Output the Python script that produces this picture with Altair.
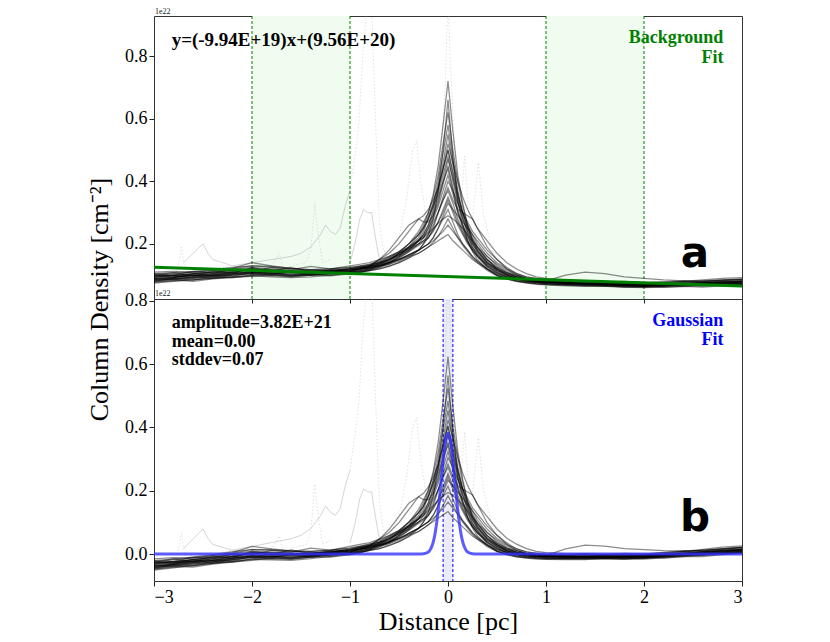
import altair as alt
import pandas as pd

# ---------------- data (units of 1e22 cm^-2) ----------------
X_GRID = [-3.0, -2.8, -2.6, -2.4, -2.2, -2.0, -1.8, -1.6, -1.4, -1.2, -1.0,
          -0.9, -0.8, -0.7, -0.6, -0.5, -0.4,
          -0.3, -0.25, -0.2, -0.15, -0.1, -0.05, 0.0, 0.05, 0.1, 0.15, 0.2, 0.25, 0.3,
          0.4, 0.5, 0.6, 0.7, 0.8, 0.9, 1.0,
          1.2, 1.4, 1.6, 1.8, 2.0, 2.2, 2.4, 2.6, 2.8, 3.0]

P1 = [0.095,0.10,0.098,0.105,0.11,0.118,0.112,0.108,0.11,0.105,0.11, 0.115,0.12,0.13,0.14,0.16,0.19, 0.23,0.26,0.30,0.36,0.45,0.58,0.72,0.56,0.42,0.33,0.26,0.21,0.18, 0.14,0.115,0.10,0.09,0.085,0.08,0.078, 0.075,0.072,0.07,0.068,0.066,0.07,0.072,0.07,0.074,0.078]
P2 = [0.088,0.092,0.10,0.098,0.104,0.11,0.106,0.10,0.104,0.11,0.112, 0.118,0.125,0.135,0.15,0.17,0.20, 0.24,0.27,0.30,0.35,0.42,0.52,0.62,0.50,0.40,0.32,0.26,0.22,0.19, 0.15,0.12,0.105,0.095,0.088,0.082,0.08, 0.076,0.073,0.07,0.066,0.064,0.067,0.07,0.073,0.07,0.075]
P3 = [0.10,0.105,0.11,0.115,0.12,0.13,0.125,0.12,0.118,0.12,0.125, 0.13,0.135,0.14,0.15,0.165,0.19, 0.22,0.25,0.28,0.32,0.38,0.46,0.55,0.45,0.36,0.29,0.24,0.20,0.175, 0.14,0.12,0.10,0.09,0.085,0.08,0.079, 0.076,0.074,0.072,0.07,0.069,0.072,0.075,0.078,0.08,0.082]
P4 = [0.082,0.088,0.09,0.095,0.10,0.105,0.10,0.098,0.10,0.105,0.11, 0.12,0.13,0.15,0.17,0.20,0.24, 0.28,0.29,0.31,0.34,0.38,0.44,0.50,0.42,0.34,0.28,0.23,0.19,0.165, 0.13,0.11,0.095,0.088,0.082,0.078,0.075, 0.072,0.07,0.068,0.066,0.064,0.066,0.068,0.07,0.072,0.07]
P5 = [0.11,0.112,0.108,0.115,0.122,0.14,0.13,0.122,0.115,0.11,0.115, 0.12,0.125,0.13,0.14,0.155,0.175, 0.20,0.22,0.25,0.29,0.34,0.40,0.47,0.41,0.35,0.30,0.26,0.23,0.20, 0.16,0.13,0.11,0.095,0.088,0.084,0.082, 0.08,0.078,0.076,0.074,0.072,0.074,0.078,0.082,0.085,0.088]
P6 = [0.078,0.082,0.085,0.09,0.094,0.098,0.095,0.092,0.095,0.10,0.105, 0.11,0.115,0.125,0.14,0.16,0.18, 0.21,0.23,0.26,0.30,0.35,0.40,0.44,0.37,0.30,0.25,0.21,0.18,0.16, 0.125,0.105,0.092,0.085,0.08,0.076,0.073, 0.07,0.068,0.066,0.064,0.062,0.065,0.068,0.066,0.069,0.072]
P7 = [0.092,0.095,0.10,0.102,0.108,0.12,0.115,0.11,0.108,0.112,0.118, 0.12,0.125,0.13,0.135,0.145,0.16, 0.18,0.20,0.22,0.25,0.30,0.35,0.40,0.37,0.33,0.30,0.27,0.24,0.22, 0.18,0.15,0.125,0.105,0.095,0.09,0.085, 0.082,0.08,0.078,0.075,0.072,0.075,0.08,0.085,0.09,0.092]
P8 = [0.085,0.09,0.094,0.10,0.105,0.11,0.108,0.104,0.106,0.11,0.114, 0.118,0.125,0.135,0.15,0.17,0.19, 0.21,0.22,0.24,0.27,0.30,0.34,0.37,0.33,0.28,0.24,0.21,0.185,0.165, 0.13,0.11,0.095,0.088,0.082,0.078,0.076, 0.073,0.07,0.068,0.067,0.065,0.068,0.07,0.073,0.076,0.08]
P9 = [0.10,0.098,0.104,0.11,0.118,0.125,0.12,0.115,0.112,0.115,0.12, 0.125,0.13,0.14,0.155,0.17,0.185, 0.20,0.21,0.22,0.24,0.27,0.30,0.34,0.30,0.26,0.23,0.20,0.18,0.16, 0.135,0.115,0.10,0.09,0.085,0.08,0.078, 0.075,0.073,0.071,0.07,0.068,0.07,0.073,0.076,0.078,0.08]
P10 = [0.075,0.08,0.086,0.09,0.095,0.10,0.098,0.096,0.10,0.104,0.108, 0.112,0.118,0.125,0.135,0.15,0.165, 0.18,0.19,0.20,0.22,0.25,0.28,0.31,0.27,0.23,0.20,0.18,0.16,0.145, 0.12,0.10,0.09,0.082,0.077,0.073,0.07, 0.068,0.066,0.064,0.062,0.06,0.062,0.064,0.066,0.068,0.07]
P11 = [0.09,0.094,0.098,0.104,0.11,0.116,0.112,0.108,0.11,0.115,0.12, 0.128,0.135,0.145,0.16,0.175,0.19, 0.21,0.22,0.235,0.25,0.265,0.28,0.29,0.28,0.265,0.25,0.23,0.21,0.19, 0.16,0.135,0.115,0.10,0.09,0.085,0.082, 0.078,0.076,0.074,0.072,0.07,0.072,0.074,0.077,0.08,0.082]
P12 = [0.083,0.086,0.09,0.096,0.10,0.104,0.102,0.10,0.102,0.106,0.11, 0.114,0.12,0.128,0.14,0.15,0.165, 0.18,0.19,0.20,0.21,0.225,0.24,0.26,0.24,0.22,0.20,0.18,0.16,0.145, 0.12,0.10,0.088,0.08,0.076,0.073,0.071, 0.069,0.067,0.065,0.063,0.062,0.064,0.066,0.068,0.07,0.072]
P13 = [0.105,0.108,0.112,0.118,0.125,0.13,0.128,0.122,0.118,0.12,0.124, 0.128,0.13,0.135,0.14,0.15,0.16, 0.17,0.18,0.19,0.20,0.21,0.22,0.23,0.21,0.195,0.18,0.165,0.15,0.14, 0.12,0.105,0.095,0.088,0.083,0.08,0.078, 0.076,0.074,0.072,0.07,0.069,0.071,0.074,0.076,0.078,0.08]
P14 = [0.095,0.1,0.104,0.108,0.112,0.12,0.118,0.113,0.11,0.112,0.116, 0.12,0.13,0.15,0.18,0.22,0.26, 0.28,0.27,0.27,0.29,0.33,0.39,0.45,0.38,0.31,0.26,0.22,0.19,0.17, 0.135,0.115,0.1,0.09,0.084,0.08,0.077, 0.074,0.072,0.07,0.068,0.066,0.069,0.072,0.075,0.078,0.08]
P15 = [0.087,0.09,0.095,0.1,0.104,0.11,0.106,0.103,0.105,0.11,0.115, 0.12,0.128,0.138,0.15,0.165,0.185, 0.21,0.23,0.26,0.31,0.37,0.44,0.52,0.46,0.40,0.35,0.31,0.28,0.25, 0.21,0.17,0.14,0.12,0.105,0.095,0.09, 0.085,0.082,0.08,0.078,0.076,0.078,0.08,0.082,0.084,0.086]
P16 = [0.098,0.1,0.105,0.11,0.115,0.12,0.117,0.114,0.112,0.116,0.12, 0.124,0.13,0.14,0.15,0.165,0.18, 0.20,0.21,0.23,0.26,0.30,0.34,0.38,0.34,0.31,0.30,0.29,0.28,0.25, 0.19,0.15,0.12,0.1,0.09,0.085,0.082, 0.1,0.11,0.105,0.095,0.09,0.085,0.082,0.08,0.083,0.086]
P17 = [0.09,0.085,0.095,0.09,0.1,0.108,0.1,0.112,0.104,0.11,0.106, 0.115,0.122,0.132,0.145,0.16,0.18, 0.21,0.24,0.28,0.33,0.40,0.49,0.58,0.47,0.37,0.30,0.25,0.21,0.185, 0.15,0.125,0.108,0.1,0.09,0.086,0.083, 0.078,0.081,0.074,0.077,0.07,0.075,0.071,0.077,0.073,0.079]
P18 = [0.1,0.108,0.098,0.112,0.105,0.125,0.112,0.125,0.11,0.118,0.112, 0.125,0.12,0.138,0.145,0.17,0.185, 0.215,0.225,0.25,0.28,0.32,0.37,0.42,0.36,0.30,0.26,0.225,0.2,0.175, 0.14,0.12,0.105,0.094,0.088,0.083,0.08, 0.077,0.074,0.078,0.072,0.075,0.07,0.076,0.072,0.078,0.075]
P19 = [0.08,0.09,0.084,0.095,0.092,0.1,0.108,0.098,0.106,0.1,0.11, 0.108,0.118,0.13,0.138,0.155,0.175, 0.195,0.205,0.22,0.245,0.27,0.31,0.35,0.31,0.27,0.235,0.205,0.18,0.16, 0.128,0.108,0.095,0.088,0.08,0.077,0.074, 0.071,0.068,0.071,0.066,0.068,0.065,0.07,0.068,0.072,0.074]
P20 = [0.105,0.1,0.112,0.106,0.118,0.112,0.125,0.118,0.128,0.12,0.13, 0.135,0.14,0.15,0.16,0.175,0.2, 0.23,0.25,0.28,0.32,0.36,0.42,0.48,0.4,0.33,0.28,0.24,0.205,0.18, 0.145,0.12,0.103,0.093,0.086,0.082,0.079, 0.074,0.077,0.073,0.071,0.074,0.069,0.073,0.071,0.075,0.078]
P21 = [0.078,0.085,0.08,0.088,0.092,0.096,0.102,0.095,0.1,0.098,0.104, 0.11,0.115,0.12,0.13,0.14,0.155, 0.17,0.18,0.19,0.205,0.225,0.25,0.28,0.25,0.22,0.195,0.175,0.155,0.14, 0.115,0.098,0.088,0.08,0.075,0.071,0.069, 0.066,0.064,0.067,0.062,0.065,0.061,0.064,0.062,0.066,0.068]
P22 = [0.094,0.098,0.092,0.1,0.096,0.108,0.104,0.11,0.1,0.108,0.104, 0.11,0.115,0.12,0.128,0.14,0.155, 0.18,0.2,0.23,0.28,0.37,0.5,0.66,0.48,0.34,0.26,0.21,0.175,0.15, 0.12,0.1,0.09,0.083,0.078,0.075,0.073, 0.07,0.073,0.068,0.071,0.066,0.069,0.066,0.07,0.068,0.072]
P23 = [0.086,0.092,0.1,0.094,0.104,0.114,0.106,0.114,0.108,0.114,0.118, 0.122,0.128,0.132,0.14,0.15,0.165, 0.18,0.19,0.2,0.22,0.25,0.29,0.33,0.31,0.29,0.27,0.25,0.23,0.21, 0.17,0.14,0.12,0.105,0.095,0.088,0.084, 0.08,0.083,0.078,0.08,0.076,0.079,0.082,0.079,0.084,0.087]
P24 = [0.1,0.094,0.104,0.1,0.11,0.104,0.115,0.108,0.116,0.112,0.12, 0.124,0.132,0.142,0.156,0.175,0.2, 0.23,0.25,0.29,0.33,0.38,0.44,0.5,0.43,0.36,0.3,0.25,0.215,0.19, 0.15,0.125,0.108,0.096,0.088,0.083,0.08, 0.076,0.072,0.075,0.07,0.072,0.068,0.071,0.074,0.072,0.076]
PROFILES = [P1, P2, P3, P4, P5, P6, P7, P8, P9, P10, P11, P12,
            P13, P14, P15, P16, P17, P18, P19, P20, P21, P22, P23, P24]

# faint gray outlier profiles (solid)
G1_X = [-2.7, -2.6, -2.5, -2.45, -2.4, -2.3, -2.2, -2.0, -1.8, -1.6, -1.5, -1.4, -1.3, -1.25, -1.2, -1.15, -1.1, -1.05, -1.0]
G1_Y = [0.14, 0.17, 0.20, 0.17, 0.15, 0.14, 0.13, 0.14, 0.15, 0.16, 0.17, 0.19, 0.23, 0.26, 0.24, 0.23, 0.25, 0.32, 0.37]
G2_X = [-1.0, -0.95, -0.9, -0.86, -0.82, -0.78, -0.74, -0.7, -0.65, -0.6]
G2_Y = [0.14, 0.20, 0.28, 0.31, 0.30, 0.30, 0.22, 0.15, 0.13, 0.13]
# faint gray outlier profiles (dotted)
D1_X = [-2.78, -2.74, -2.72, -2.7, -2.66, -2.6, -2.4, -2.2, -2.0, -1.8, -1.72, -1.68, -1.6, -1.45, -1.4, -1.36, -1.32, -1.28, -1.2]
D1_Y = [0.10, 0.15, 0.19, 0.14, 0.11, 0.12, 0.12, 0.13, 0.12, 0.13, 0.17, 0.12, 0.13, 0.14, 0.18, 0.33, 0.22, 0.14, 0.15]
D2_X = [-1.0, -0.95, -0.91, -0.87, -0.82, -0.78, -0.74, -0.7, -0.66, -0.6, -0.5, -0.42, -0.36, -0.32, -0.28, -0.22, -0.15, -0.08, -0.03, 0.0, 0.03, 0.08, 0.14, 0.17, 0.21, 0.25, 0.31, 0.36, 0.45, 0.6, 0.8]
D2_Y = [0.37, 0.48, 0.58, 0.80, 0.98, 0.98, 0.60, 0.27, 0.18, 0.16, 0.22, 0.35, 0.50, 0.53, 0.40, 0.28, 0.30, 0.45, 0.70, 0.98, 0.75, 0.40, 0.36, 0.48, 0.30, 0.28, 0.46, 0.30, 0.18, 0.12, 0.09]

# linear background fit (top panel): y = SLOPE*x + INTERCEPT
SLOPE = -0.00994
INTERCEPT = 0.0956
BG_X = [-3.0, 3.0]
BG_Y = [0.1254, 0.0658]
BG_START = [-2.0, 1.0]
BG_END = [-1.0, 2.0]

# gaussian fit (bottom panel)
GX = [-3.0, -0.3, -0.25, -0.2, -0.175, -0.15, -0.125, -0.1, -0.075, -0.05, -0.025, 0.0,
      0.025, 0.05, 0.075, 0.1, 0.125, 0.15, 0.175, 0.2, 0.25, 0.3, 3.0]
GY = [0.0, 0.0, 0.001, 0.0065, 0.017, 0.0385, 0.078, 0.138, 0.215, 0.296, 0.358, 0.382,
      0.358, 0.296, 0.215, 0.138, 0.078, 0.0385, 0.017, 0.0065, 0.001, 0.0, 0.0]
G_START = [-0.05]
G_END = [0.05]

X_TICKS = [-3, -2, -1, 0, 1, 2, 3]
TOP_Y_TICKS = [0.2, 0.4, 0.6, 0.8]
BOT_Y_TICKS = [0.0, 0.2, 0.4, 0.6, 0.8]

# ---------------- frames ----------------
rows = []
for i, prof in enumerate(PROFILES):
    for x, y in zip(X_GRID, prof):
        rows.append({"pid": f"p{i}", "x": x, "y": y})
prof_df = pd.DataFrame(rows)

gray_rows = []
for name, xs, ys in [("g1", G1_X, G1_Y), ("g2", G2_X, G2_Y)]:
    for x, y in zip(xs, ys):
        gray_rows.append({"pid": name, "x": x, "y": y})
gray_df = pd.DataFrame(gray_rows)

dot_rows = []
for name, xs, ys in [("d1", D1_X, D1_Y), ("d2", D2_X, D2_Y)]:
    for x, y in zip(xs, ys):
        dot_rows.append({"pid": name, "x": x, "y": y})
dot_df = pd.DataFrame(dot_rows)

bg_df = pd.DataFrame({"x": BG_X, "y": BG_Y})
bg_reg = pd.DataFrame({"s": BG_START, "e": BG_END})
g_df = pd.DataFrame({"x": GX, "y": GY})
g_reg = pd.DataFrame({"s": G_START, "e": G_END})

W = 588
H1 = 283
H2 = 282
SERIF = "Liberation Serif"
SUB = f"datum.y - ({SLOPE}*datum.x + {INTERCEPT})"

xscale = alt.Scale(domain=[-3, 3], nice=False, zero=False)
ytop = alt.Scale(domain=[0.024, 0.928], nice=False, zero=False)
ybot = alt.Scale(domain=[-0.085, 0.806], nice=False, zero=False)

x_top_axis = alt.Axis(values=X_TICKS, labels=False, title=None, ticks=True, tickSize=4,
                      domain=False, grid=False, tickColor="#222")
x_bot_axis = alt.Axis(values=X_TICKS, format="d", title="Distance [pc]", titleFontSize=26,
                      titleFont=SERIF, labelFont=SERIF,
                      titleFontWeight="normal", titleColor="#000",
                      labelFontSize=18, labelColor="#000", tickSize=5,
                      domain=False, grid=False, tickColor="#222", titlePadding=2)
y_top_axis = alt.Axis(values=TOP_Y_TICKS, format=".1f", title="Column Density [cm⁻²]",
                      titleFont=SERIF, labelFont=SERIF,
                      titleFontSize=26, titleFontWeight="normal",
                      titleColor="#000", titleAngle=270, titleAlign="center",
                      titleBaseline="bottom", titleX=-42, titleY=H1,
                      labelFontSize=18, labelColor="#000", tickSize=5,
                      domain=False, grid=False, tickColor="#222")
y_bot_axis = alt.Axis(values=BOT_Y_TICKS, format=".1f", title=None, labelFont=SERIF,
                      labelFontSize=18, labelColor="#000", tickSize=5,
                      domain=False, grid=False, tickColor="#222")

LINE_OP = 0.45
LINE_W = 1.25

# ---------------- top panel ----------------
t_reg = alt.Chart(bg_reg).mark_rect(color="#f0fcf0").encode(
    x=alt.X("s:Q", scale=xscale, axis=x_top_axis), x2="e:Q")
t_rule_s = alt.Chart(bg_reg).mark_rule(color="green", strokeDash=[3, 2], strokeWidth=1).encode(
    x=alt.X("s:Q", scale=xscale))
t_rule_e = alt.Chart(bg_reg).mark_rule(color="green", strokeDash=[3, 2], strokeWidth=1).encode(
    x=alt.X("e:Q", scale=xscale))
t_dot = alt.Chart(dot_df).mark_line(color="#aaa", opacity=0.45, strokeWidth=0.8,
                                    strokeDash=[1.5, 2], clip=True).encode(
    x=alt.X("x:Q", scale=xscale), y=alt.Y("y:Q", scale=ytop, axis=y_top_axis), detail="pid:N")
t_gray = alt.Chart(gray_df).mark_line(color="#888", opacity=0.45, strokeWidth=0.8, clip=True).encode(
    x=alt.X("x:Q", scale=xscale), y=alt.Y("y:Q", scale=ytop), detail="pid:N")
t_prof = alt.Chart(prof_df).mark_line(color="black", opacity=LINE_OP, strokeWidth=LINE_W, clip=True).encode(
    x=alt.X("x:Q", scale=xscale), y=alt.Y("y:Q", scale=ytop), detail="pid:N")
t_bg = alt.Chart(bg_df).mark_line(color="green", strokeWidth=3, clip=True).encode(
    x=alt.X("x:Q", scale=xscale), y=alt.Y("y:Q", scale=ytop))

t_eq = alt.Chart(pd.DataFrame({"x": [-2.82], "y": [0.85], "t": ["y=(-9.94E+19)x+(9.56E+20)"]})).mark_text(
    align="left", baseline="middle", font=SERIF, fontWeight="bold", fontSize=19, color="black").encode(
    x=alt.X("x:Q", scale=xscale), y=alt.Y("y:Q", scale=ytop), text="t:N")
t_lbl = alt.Chart(pd.DataFrame({"x": [2.81, 2.81], "y": [0.857, 0.794], "t": ["Background", "Fit"]})).mark_text(
    align="right", baseline="middle", font=SERIF, fontWeight="bold", fontSize=18, color="green").encode(
    x=alt.X("x:Q", scale=xscale), y=alt.Y("y:Q", scale=ytop), text="t:N")
t_a = alt.Chart(pd.DataFrame({"x": [2.52], "y": [0.168], "t": ["a"]})).mark_text(
    align="center", baseline="middle", font="DejaVu Sans", fontWeight="bold", fontSize=42, color="black").encode(
    x=alt.X("x:Q", scale=xscale), y=alt.Y("y:Q", scale=ytop), text="t:N")
t_exp = alt.Chart(pd.DataFrame({"t": ["1e22"]})).mark_text(
    align="left", baseline="bottom", font=SERIF, fontSize=8, color="#222").encode(
    x=alt.value(1), y=alt.value(0), text="t:N")

top = alt.layer(t_reg, t_rule_s, t_rule_e, t_dot, t_gray, t_prof, t_bg, t_eq, t_lbl, t_a, t_exp).properties(
    width=W, height=H1)

# ---------------- bottom panel ----------------
b_reg = alt.Chart(g_reg).mark_rect(color="#ebebf8").encode(
    x=alt.X("s:Q", scale=xscale, axis=x_bot_axis), x2="e:Q")
b_rule_s = alt.Chart(g_reg).mark_rule(color="blue", strokeDash=[3, 2], strokeWidth=1).encode(
    x=alt.X("s:Q", scale=xscale))
b_rule_e = alt.Chart(g_reg).mark_rule(color="blue", strokeDash=[3, 2], strokeWidth=1).encode(
    x=alt.X("e:Q", scale=xscale))
b_dot = alt.Chart(dot_df).transform_calculate(ys=SUB).mark_line(
    color="#aaa", opacity=0.45, strokeWidth=0.8, strokeDash=[1.5, 2], clip=True).encode(
    x=alt.X("x:Q", scale=xscale), y=alt.Y("ys:Q", scale=ybot, axis=y_bot_axis), detail="pid:N")
b_gray = alt.Chart(gray_df).transform_calculate(ys=SUB).mark_line(
    color="#888", opacity=0.45, strokeWidth=0.8, clip=True).encode(
    x=alt.X("x:Q", scale=xscale), y=alt.Y("ys:Q", scale=ybot), detail="pid:N")
b_prof = alt.Chart(prof_df).transform_calculate(ys=SUB).mark_line(
    color="black", opacity=LINE_OP, strokeWidth=LINE_W, clip=True).encode(
    x=alt.X("x:Q", scale=xscale), y=alt.Y("ys:Q", scale=ybot), detail="pid:N")
b_g = alt.Chart(g_df).mark_line(color="#3333ff", opacity=0.8, strokeWidth=3,
                                interpolate="monotone", clip=True).encode(
    x=alt.X("x:Q", scale=xscale), y=alt.Y("y:Q", scale=ybot))

b_par = alt.Chart(pd.DataFrame({"x": [-2.82, -2.82, -2.82], "y": [0.730, 0.671, 0.612],
                                "t": ["amplitude=3.82E+21", "mean=0.00", "stddev=0.07"]})).mark_text(
    align="left", baseline="middle", font=SERIF, fontWeight="bold", fontSize=18, color="black").encode(
    x=alt.X("x:Q", scale=xscale), y=alt.Y("y:Q", scale=ybot), text="t:N")
b_lbl = alt.Chart(pd.DataFrame({"x": [2.81, 2.81], "y": [0.737, 0.677], "t": ["Gaussian", "Fit"]})).mark_text(
    align="right", baseline="middle", font=SERIF, fontWeight="bold", fontSize=18, color="blue").encode(
    x=alt.X("x:Q", scale=xscale), y=alt.Y("y:Q", scale=ybot), text="t:N")
b_b = alt.Chart(pd.DataFrame({"x": [2.52], "y": [0.114], "t": ["b"]})).mark_text(
    align="center", baseline="middle", font="DejaVu Sans", fontWeight="bold", fontSize=42, color="black").encode(
    x=alt.X("x:Q", scale=xscale), y=alt.Y("y:Q", scale=ybot), text="t:N")
b_exp = alt.Chart(pd.DataFrame({"t": ["1e22"]})).mark_text(
    align="left", baseline="bottom", font=SERIF, fontSize=8, color="#222").encode(
    x=alt.value(1), y=alt.value(-1), text="t:N")

bottom = alt.layer(b_reg, b_rule_s, b_rule_e, b_dot, b_gray, b_prof, b_g, b_par, b_lbl, b_b, b_exp).properties(
    width=W, height=H2)

chart = alt.vconcat(top, bottom, spacing=0, bounds="flush").resolve_scale(
    y="independent").properties(
    padding={"left": 77, "top": -1, "right": 5, "bottom": 5},
    background="white"
).configure(
    font=SERIF,
    style={"guide-label": {"font": SERIF}, "guide-title": {"font": SERIF}}
).configure_view(stroke="#333", strokeWidth=1).configure_axis(
    labelFont=SERIF, titleFont=SERIF).configure_axisX(labelFont=SERIF).configure_axisY(
    labelFont=SERIF)

chart.save("out.html", embed_options={"renderer": "svg", "actions": False})
